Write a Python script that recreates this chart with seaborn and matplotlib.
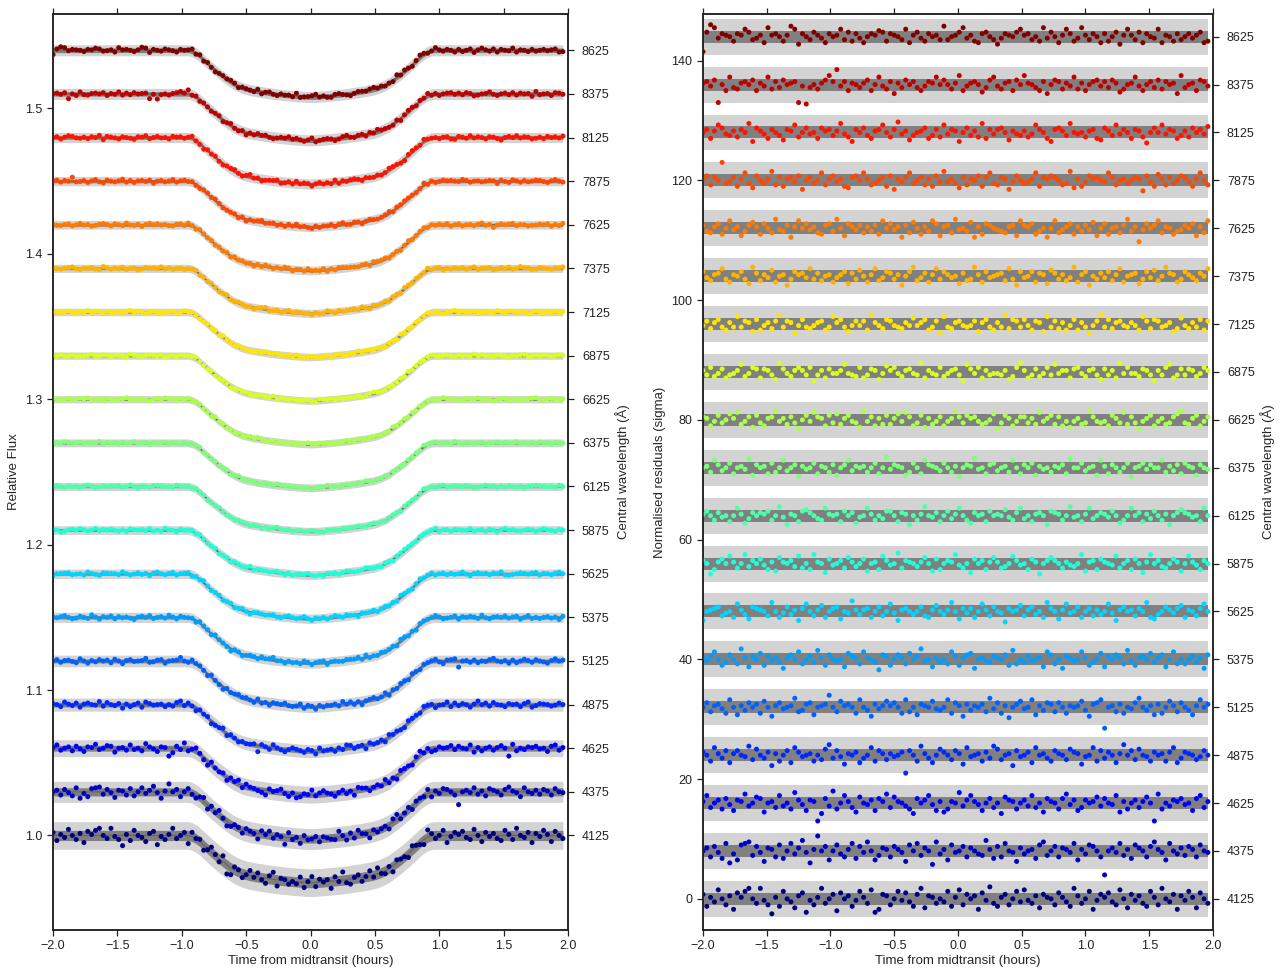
import numpy as np
import pandas as pd
import matplotlib
matplotlib.use("Agg")
import matplotlib.pyplot as plt
import seaborn as sns

# central wavelengths of the spectroscopic channels (bottom -> top)
wavelengths = [4125, 4375, 4625, 4875, 5125, 5375, 5625, 5875, 6125, 6375,
               6625, 6875, 7125, 7375, 7625, 7875, 8125, 8375, 8625]

# exposure times (hours from mid-transit)
time = np.round(np.arange(-2.0, 1.97, 0.03), 2)

# normalised transit shape (fraction of full depth) at each exposure
transit_shape = ([0.0] * 36 +
                 [0.02, 0.065, 0.125, 0.205, 0.28, 0.355, 0.425, 0.495, 0.56, 0.62,
                  0.68, 0.73, 0.77, 0.805, 0.83, 0.85, 0.865, 0.88, 0.893, 0.905,
                  0.918, 0.93, 0.94, 0.95, 0.958, 0.966, 0.974, 0.982, 0.988, 0.994,
                  0.998,
                  0.999, 0.996, 0.99, 0.984, 0.977, 0.969, 0.961, 0.953, 0.944, 0.934,
                  0.922, 0.91, 0.898, 0.885, 0.87, 0.855, 0.838, 0.815, 0.783, 0.745,
                  0.70, 0.64, 0.58, 0.52, 0.45, 0.38, 0.305, 0.23, 0.15, 0.085,
                  0.035, 0.005] +
                 [0.0] * 34)

# transit depth per channel
depth = [0.0325, 0.0325, 0.032, 0.032, 0.0315, 0.0315, 0.031, 0.031, 0.031, 0.031,
         0.031, 0.031, 0.031, 0.031, 0.0315, 0.0315, 0.032, 0.032, 0.0322]

# photometric scatter per channel (relative flux)
noise = [0.0028, 0.0022, 0.0018, 0.0014, 0.0012, 0.0010, 0.0009, 0.0008, 0.0007, 0.0007,
         0.0007, 0.0007, 0.0007, 0.0008, 0.0008, 0.0009, 0.0010, 0.0011, 0.0012]

# model uncertainty bands (half widths, relative flux)
band_outer = [0.0095, 0.0072, 0.0058, 0.0045, 0.004, 0.0035, 0.0032, 0.003, 0.0028, 0.0027,
              0.0025, 0.0025, 0.0026, 0.0028, 0.003, 0.0032, 0.0035, 0.0038, 0.0038]
band_inner = [0.0035, 0.0028, 0.002, 0.0016, 0.0013, 0.0011, 0.001, 0.0009, 0.0008, 0.0008,
              0.0008, 0.0008, 0.0008, 0.0009, 0.001, 0.0011, 0.0012, 0.0015, 0.0016]

# residuals in units of sigma, coded per exposure: 'q' = 0, one letter = 0.25 sigma
levels = "abcdefghijklmnopqrstuvwxyzABCDEFG"
residual_codes = [
    "tlrowqm sjurvxq nxpmgrl vqoksuh pmrxnqt iuqslpv rnwhjts mqvpuol txksrnq ovlrwmt qsjupyn lrtmqvo wpnsktr qmurolx snqvjpt ruomwqk tpsnlvr mxqotjs pvrkuqn",
    "qsmtplv iokuvwn tpjsrmu lqvosxp irAqtkq uomrvlt pwqknsr mtrpjuq vnsqhwo rkupqtm sqonxrl tmvqpjs oqrluwn qtmsrpv kroutqm aqspvnr lusqmtw rpkvqos ntrmuqp",
    "rvnqsmt plsrwoq utkqrnv oqmxspl srejtoy mqvrnku qpsltrw nurqomj tqsvplr kmrqxos vrplqtn qjusrmq sovnqkt rqmtwps lnsqruo tqpvkrm qsnruqe wmqosrt pqltvnr",
    "sqmvrot lrtqpwn uqosjrm qtlvspq rmqnuxo tpkrqsl oqvmtrn rpqsetq mwrolqu sqntrkv pqrmsow unqrjtp qslvqro mtrqnus rkpqvmt osqlrxq tnuqpms qrmsvlo srqnptq",
    "qtnrspm vqlrotq smuqkrt pqrwnos tlqrsyq nursqmv qokspru rtqmvnq lsrqupo qvmtrks orqsnwp tmrjqsu pqvlrot sntqmrq ruokstv cqrnsmq ptwqorl smqurnt qolrvqs",
    "rpsvqmo tqnxrls qumspro krtqvnq sowrmtq pqlusrn vrqojts mqtrnuq sxpqlro qnvsmrt ukqrpos rqtmwnq ospqrlv tnqksrp qvrmoqu lsqtrnw pmrsquo rtlqvnq nqsorkt",
    "kqrstnp qmvrolt srqnwqm ptorksv qnrumqs tlqpxro rsmqtnq vpkrsqo qtnmruq orwqlsp smqvrnt qpjsqru nrtoqmw sqlrvpq tmqsnro qvpkrtq rnsqwml oqtrpsu mrqnsvq",
    "sqjmrtq vrnqwos qtpmrlu rqsovnq mwrqktp qsnuroq tlqrmvs pqxnsrq oruqltm qsrwpnq ktqsmru rnoqvsp qmtrjqs usqnrpo qwlrsmt rqpvnqs mtqkrwq sonqtrl qvrpmsq",
    "rtqnspq mqvrlos qsrtnqw pkrqmtu sqonvrq rmtqslp qvrnqot tqmsrkq nrwqpsm qtorvqn lsqrmtq rqupnsv oqmrsqk tsrnqwp qmrvoqs rptqlnq vqsmrot qnrkqsu srpqmvq",
    "qrnvsoq tmqrpwl sqrmtnq voqskrp qtmrqns lqsvorq rnqtmqx psrqlnt qmvsrqo tqnrkqs rwpqmst oqrnvqm sqtlrpq nrqsmwq qtoqrlv rmsqnqt kqrtpsq qvnrosm trqlsqp",
    "srmptoq urvnpsl tomrswp rnsokqt pvsrmto unrtpol wpsmrnt nrupvsm otlrnps mprwsot rspnoqu kotrmps sornvpr tnsmplp rnowspo pmtrovn sokprtm prnosuw onrtmps",
    "rotnpsm oprvnpt smsrolw spnrtro tkormsp prvpont mosrlpu rtpnrsp owmrpot nprsokv sptmrop porlntw rmosnpt ovprrms tpnrsol sormwpt ppnsrok rotvmos osrnptr",
    "psnrtom rovosrl tmprnsw osrkpto nprsmov rtolpsp smwrpnt sponrpu prtmosk vonrspo pslrtom rowntso tpmsrlv osnrmpt mrokpsw otnrspo rpmvsnt soprlnu pnrotms",
    "tpnrsvo mrqtolw snrpumq rkotrsp vosnqrm prtlsou qmrvnpt sorkqtw npsmrvo trpqlsn owrmtpq rsnvokt pqtmsrl usornpw mrtkqos ptnrvmq rslotpu nqwsrmo trpnsqv",
    "sonrtmq vprlosu rmtqnwp oskrvqt prnmsto wqltrps nrosmvq tprksnu qmrovtl rsnwpqo ukrmtsq ponrslv srtmoqk qvnprtm rospulq tmqrnsw orhptqs vnrqmop sqtlrnv",
    "rtnsqCo psmrvol tqorwns mrsptkq soqvnrt prmlstq vrnoqsm tkrpsvo qsnrmtp wprolsn rqtmsvo nsrkptq oprvmsr tsqnowl rmptrsq pvsnqro qsrjtpm urnsoqt spmrvqn",
    "qsmrvtp ornsqwk trpmsqo lsrvnqt pqmtrso rwpnksq tomrsvq nsxprlo qrtmosn vpsrkqt ornwmsp stqlrpo rnpvsqm kstrowq pqnrsml trovpsq msrnjqt qvpsrmo rntqspu",
    "rspteqm vonrsqt mrpvnso tqrsepd oqnrtws Apsmrqo rtmqvpn skrotqs ompsrvq tqnrwmp rsqlotv pnrsmtq wrqomsk qtsnrpv nrmqstp sotrlnq rvpmqso tnsqrkw oqrmtsp",
    "gtywpsr qnsrvto prmwrsq nrxvlsq otrpmsq rvotnsp mqsrutn srqovmr tpnsqro xoqrtwp rnmstqo lpsrqtv rsoqnwp tqmrvsn pwrosqm snqtlrv rotmsqp vmrqnso qsprtmn",
]

residuals = [np.array([(levels.index(c) - 16) * 0.25 for c in row.replace(" ", "")])
             for row in residual_codes]
bad = [(w, len(r)) for w, r in zip(wavelengths, residuals) if len(r) != len(time)]
if bad:
    raise ValueError(f"row lengths {bad} != {len(time)}")

flux_step = 0.03
resid_step = 8
colors = plt.cm.jet(np.linspace(0, 1, len(wavelengths)))

shape = np.array(transit_shape)
lc_rows, res_rows, mod_rows = [], [], []
for i, w in enumerate(wavelengths):
    model = 1.0 + flux_step * i - depth[i] * shape
    flux = model + residuals[i] * noise[i]
    lc_rows.append(pd.DataFrame({"time": time, "flux": flux, "wl": w}))
    mod_rows.append(pd.DataFrame({"time": time, "model": model, "wl": w}))
    res_rows.append(pd.DataFrame({"time": time, "res": residuals[i] + resid_step * i, "wl": w}))
lc = pd.concat(lc_rows)
mod = pd.concat(mod_rows)
res = pd.concat(res_rows)
palette = {w: colors[i] for i, w in enumerate(wavelengths)}

sns.set_theme(style="ticks")
plt.rcParams["font.family"] = ["Liberation Sans", "DejaVu Sans"]
plt.rcParams.update({"font.size": 9, "axes.labelsize": 9.5, "xtick.labelsize": 9,
                     "ytick.labelsize": 9, "axes.edgecolor": "#222222",
                     "axes.linewidth": 1.1, "xtick.major.size": 4, "ytick.major.size": 4,
                     "xtick.major.width": 0.9, "ytick.major.width": 0.9,
                     "xtick.color": "#222222", "ytick.color": "#222222"})

fig = plt.figure(figsize=(12.87, 9.74), dpi=100)
ax1 = fig.add_axes([0.0412, 0.0452, 0.4002, 0.9405])
ax2 = fig.add_axes([0.5462, 0.0452, 0.3963, 0.9405])

light, dark = "#d3d3d3", "#808080"

# light curves
for i, w in enumerate(wavelengths):
    m = mod_rows[i]["model"].values
    ax1.fill_between(time, m - band_outer[i], m + band_outer[i], color=light, lw=0, zorder=1)
    ax1.fill_between(time, m - band_inner[i], m + band_inner[i], color=dark, lw=0, zorder=2)
sns.lineplot(data=mod, x="time", y="model", units="wl", estimator=None, color="#666666",
             lw=0.9, ax=ax1, zorder=3)
sns.scatterplot(data=lc, x="time", y="flux", hue="wl", palette=palette, s=13, linewidth=0,
                legend=False, ax=ax1, zorder=4)
ax1.set_xlim(-2, 2)
ax1.set_ylim(0.935, 1.565)
ax1.set_yticks([1.0, 1.1, 1.2, 1.3, 1.4, 1.5])
ax1.set_ylabel("Relative Flux")

# residuals
for i, w in enumerate(wavelengths):
    off = resid_step * i
    ax2.fill_between(time, off - 3, off + 3, color=light, lw=0, zorder=1)
    ax2.fill_between(time, off - 1, off + 1, color=dark, lw=0, zorder=2)
sns.scatterplot(data=res, x="time", y="res", hue="wl", palette=palette, s=13, linewidth=0,
                legend=False, ax=ax2, zorder=4)
ax2.set_xlim(-2, 2)
ax2.set_ylim(-5.2, 147.8)
ax2.set_yticks(range(0, 141, 20))
ax2.set_ylabel("Normalised residuals (sigma)")

xt = np.arange(-2, 2.01, 0.5)
for ax, step in [(ax1, flux_step), (ax2, resid_step)]:
    ax.set_xticks(xt)
    ax.set_xticklabels([f"{v:.1f}".replace("-", "\u2212") for v in xt])
    ax.set_xlabel("Time from midtransit (hours)", labelpad=2)
    ax.tick_params(axis="x", top=True, direction="out")
    ax.tick_params(axis="y", right=False, direction="out")
    for s in ax.spines.values():
        s.set_visible(True)
    twin = ax.twinx()
    twin.set_ylim(ax.get_ylim())
    twin.set_yticks([1.0 * (ax is ax1) + step * i for i in range(len(wavelengths))])
    twin.set_yticklabels([str(w) for w in wavelengths])
    twin.set_ylabel("Central wavelength (Å)")
    twin.tick_params(axis="y", direction="out", pad=6)

fig.savefig("out.png", dpi=100)
